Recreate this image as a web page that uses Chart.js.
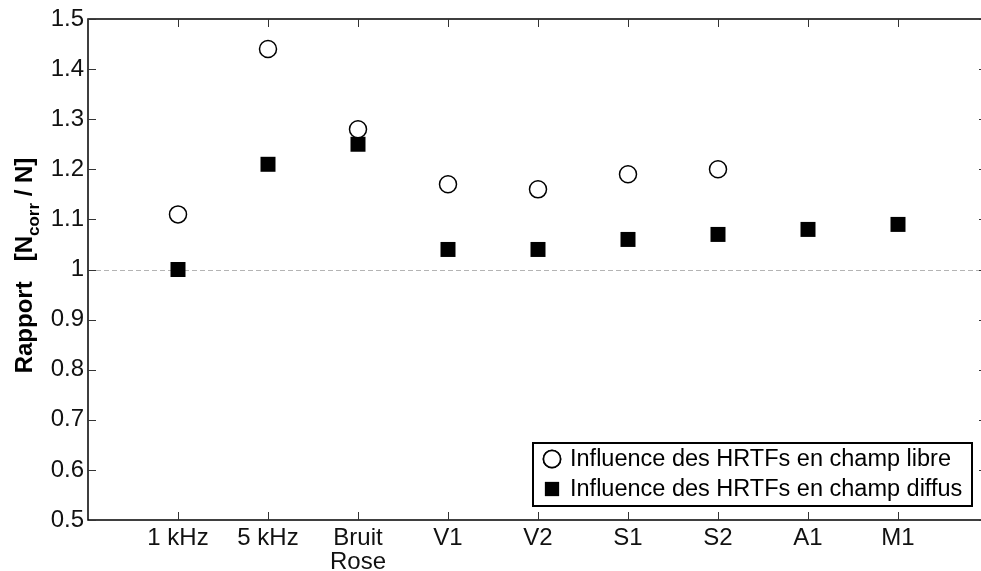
<!DOCTYPE html>
<html>
<head>
<meta charset="utf-8">
<script src="https://cdn.jsdelivr.net/npm/chart.js@4/dist/chart.umd.min.js"></script>
<style>
  html, body { margin: 0; padding: 0; background: #fff; overflow: hidden; }
  canvas { display: block; }
</style>
</head>
<body>
<canvas id="graf" width="981" height="571"></canvas>
<script>
// categories : position i+1 sur l'axe x
var categories = ["1 kHz", "5 kHz", ["Bruit", "Rose"], "V1", "V2", "S1", "S2", "A1", "M1"];
var champLibre = [1.11, 1.44, 1.28, 1.17, 1.16, 1.19, 1.20, null, null];
var champDiffus = [1.00, 1.21, 1.25, 1.04, 1.04, 1.06, 1.07, 1.08, 1.09];
var yTicks = [0.5, 0.6, 0.7, 0.8, 0.9, 1, 1.1, 1.2, 1.3, 1.4, 1.5];
var legendLabels = ["Influence des HRTFs en champ libre", "Influence des HRTFs en champ diffus"];

var police = "'Liberation Sans', Arial, sans-serif";

function points(vals) {
  return vals.map(function (v, i) { return { x: i + 1, y: v }; });
}

// ligne pointillee a 1 (sous les points)
var refPlugin = {
  id: "ref",
  beforeDatasetsDraw: function (chart) {
    var ctx = chart.ctx, a = chart.chartArea;
    var y1 = Math.round(chart.scales.y.getPixelForValue(1)) + 0.5;
    ctx.save();
    ctx.strokeStyle = "#b4b4b4";
    ctx.lineWidth = 1;
    ctx.setLineDash([5, 3]);
    ctx.beginPath();
    ctx.moveTo(a.left, y1);
    ctx.lineTo(a.right, y1);
    ctx.stroke();
    ctx.restore();
  }
};

// cadre, ticks vers l'interieur, titre y et legende
var cadrePlugin = {
  id: "cadre",
  afterDraw: function (chart) {
    var ctx = chart.ctx, a = chart.chartArea;
    var xs = chart.scales.x, ys = chart.scales.y;
    var rx = xs.getPixelForValue(10) - 1; // bord droit, hors de l'image
    ctx.save();

    // cadre
    ctx.strokeStyle = "#000";
    ctx.lineWidth = 1.5;
    ctx.strokeRect(a.left, a.top, rx - a.left, a.bottom - a.top);

    // ticks
    ctx.lineWidth = 1;
    ctx.strokeStyle = "#333";
    var t = 8;
    yTicks.forEach(function (v) {
      var py = Math.round(ys.getPixelForValue(v)) + 0.5;
      ctx.beginPath();
      ctx.moveTo(a.left, py); ctx.lineTo(a.left + t, py);
      ctx.moveTo(rx, py); ctx.lineTo(rx - t, py);
      ctx.stroke();
    });
    categories.forEach(function (c, i) {
      var px = Math.round(xs.getPixelForValue(i + 1)) + 0.5;
      ctx.beginPath();
      ctx.moveTo(px, a.bottom); ctx.lineTo(px, a.bottom - t);
      ctx.moveTo(px, a.top); ctx.lineTo(px, a.top + t);
      ctx.stroke();
    });

    // titre de l'axe y : Rapport   [N_corr / N]
    ctx.translate(32, (a.top + a.bottom) / 2 - 4);
    ctx.rotate(-Math.PI / 2);
    ctx.fillStyle = "#000";
    ctx.textBaseline = "alphabetic";
    var f1 = "bold 24px " + police, f2 = "bold 17px " + police;
    var parts = [["Rapport   [N", f1, 0], ["corr", f2, 7], [" / N]", f1, 0]];
    var total = 0;
    parts.forEach(function (p) { ctx.font = p[1]; total += ctx.measureText(p[0]).width; });
    var x = -total / 2;
    parts.forEach(function (p) {
      ctx.font = p[1];
      ctx.fillText(p[0], x, p[2]);
      x += ctx.measureText(p[0]).width;
    });
    ctx.setTransform(1, 0, 0, 1, 0, 0);

    // legende
    var lx = 533, ly = 443, lw = 439, lh = 63;
    ctx.fillStyle = "#fff";
    ctx.fillRect(lx, ly, lw, lh);
    ctx.strokeStyle = "#000";
    ctx.lineWidth = 2;
    ctx.strokeRect(lx, ly, lw, lh);
    ctx.font = "23.5px " + police;
    ctx.textBaseline = "middle";
    var rows = [ly + 16, ly + 46];
    chart.data.datasets.forEach(function (ds, k) {
      Chart.helpers.drawPoint(ctx, {
        pointStyle: ds.pointStyle, radius: k === 0 ? 8.5 : 10, rotation: 0,
        borderWidth: ds.borderWidth
      }, lx + 19, rows[k]);
      ctx.fillStyle = ds.backgroundColor; ctx.strokeStyle = "#000"; ctx.lineWidth = ds.borderWidth;
      ctx.fill(); if (ds.borderWidth) ctx.stroke();
      ctx.fillStyle = "#000";
      ctx.fillText(legendLabels[k], lx + 37, rows[k] + 1);
    });
    ctx.restore();
  }
};

new Chart(document.getElementById("graf"), {
  type: "scatter",
  data: {
    datasets: [
      {
        label: legendLabels[0],
        data: points(champLibre),
        pointStyle: "circle",
        pointRadius: 8.5,
        pointHoverRadius: 8.5,
        backgroundColor: "#fff",
        borderColor: "#000",
        borderWidth: 1.5
      },
      {
        label: legendLabels[1],
        data: points(champDiffus),
        pointStyle: "rect",
        pointRadius: 10.6,
        pointHoverRadius: 10.6,
        backgroundColor: "#000",
        borderColor: "#000",
        borderWidth: 0
      }
    ]
  },
  options: {
    responsive: false,
    animation: false,
    devicePixelRatio: 1,
    layout: { autoPadding: false, padding: { top: 19, right: 0, left: 0, bottom: 0 } },
    plugins: { legend: { display: false }, tooltip: { enabled: false } },
    scales: {
      x: {
        type: "linear",
        min: 0, max: 893 / 90,
        grid: { display: false, drawTicks: false },
        border: { display: false },
        afterBuildTicks: function (s) {
          s.ticks = categories.map(function (c, i) { return { value: i + 1 }; });
        },
        ticks: {
          autoSkip: false, maxRotation: 0, minRotation: 0, padding: 6,
          color: "#111", font: { family: police, size: 24, lineHeight: 1.0 },
          callback: function (v) { return categories[Math.round(v) - 1]; }
        },
        afterFit: function (s) { s.height = 51; s.paddingLeft = 0; s.paddingRight = 0; }
      },
      y: {
        min: 0.5, max: 1.5,
        grid: { display: false, drawTicks: false },
        border: { display: false },
        ticks: {
          stepSize: 0.1, padding: 4, color: "#111",
          font: { family: police, size: 24 },
          callback: function (v) { return Math.abs(v - 1) < 1e-9 ? "1" : v.toFixed(1); }
        },
        afterFit: function (s) { s.width = 88; }
      }
    }
  },
  plugins: [refPlugin, cadrePlugin]
});
</script>
</body>
</html>
